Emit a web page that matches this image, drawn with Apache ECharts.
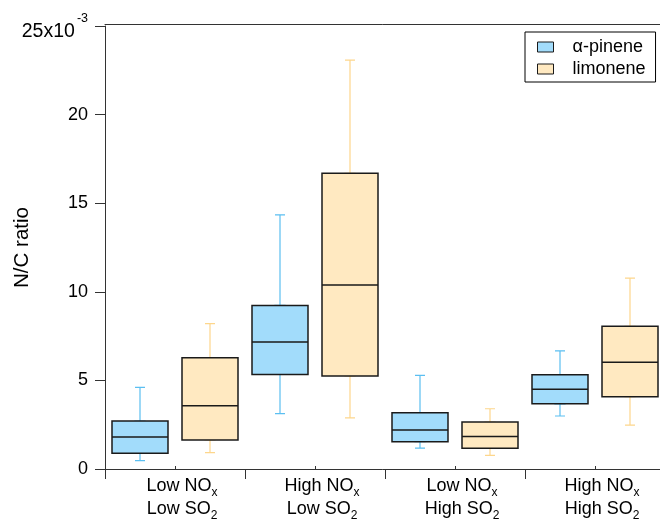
<!DOCTYPE html>
<html><head><meta charset="utf-8">
<script src="https://cdn.jsdelivr.net/npm/echarts@6/dist/echarts.min.js"></script>
<style>html,body{margin:0;padding:0;background:#fff}#c{width:660px;height:525px}</style>
</head><body><div id="c"></div>
<script>
// Categories (x axis)
const categories = ['Low NOx\nLow SO2', 'High NOx\nLow SO2', 'Low NOx\nHigh SO2', 'High NOx\nHigh SO2'];
const seriesNames = ['α-pinene', 'limonene'];
// Box statistics per category: [min, Q1, median, Q3, max]  (units of 10^-3)
const alphaPinene = [
  [0.47, 0.89, 1.80, 2.71, 4.61],
  [3.12, 5.34, 7.16, 9.23, 14.34],
  [1.18, 1.54, 2.20, 3.18, 5.28],
  [2.99, 3.68, 4.50, 5.32, 6.67]
];
const limonene = [
  [0.92, 1.64, 3.57, 6.28, 8.20],
  [2.88, 5.25, 10.38, 16.69, 23.07],
  [0.77, 1.17, 1.84, 2.65, 3.40],
  [2.48, 4.08, 6.02, 8.05, 10.77]
];
const yTickValues = [0, 5, 10, 15, 20, 25];
const yTopLabel = '25x10';
const yTopExp = '-3';

const FONT = '"Liberation Sans", Arial, Helvetica, sans-serif';
const fillColors = ['#a2dcfb', '#ffe9c1'];
const whiskerColors = ['#5bbff1', '#fdd68c'];
const slots = categories.flatMap((c, i) => [i + 'a', i + 'b']);

function boxData(arr, slot) {
  return arr.map((d, i) => [2 * i + slot, d[1], d[1], d[2], d[3], d[3]]);
}
function whiskerData(arr, slot) {
  return arr.map((d, i) => [2 * i + slot, d[0], d[1], d[2], d[3], d[4]]);
}

const chart = echarts.init(document.getElementById('c'), null, {renderer: 'canvas'});
const gridBox = {left: 105, top: 26, width: 560, bottom: 56, containLabel: false, outerBoundsMode: 'none'};
const hiddenAxis = {type: 'category', data: slots, show: false, gridIndex: 0};

const series = [];
[alphaPinene, limonene].forEach((arr, s) => {
  series.push({
    name: seriesNames[s], type: 'boxplot', xAxisIndex: 2 + s, yAxisIndex: 0,
    data: boxData(arr, s), encode: {x: 0, y: [1, 2, 3, 4, 5]},
    boxWidth: [56, 56], z: 3,
    itemStyle: {color: fillColors[s], borderColor: '#1a1a1a', borderWidth: 1.5},
    emphasis: {disabled: true}, silent: true
  });
});
[alphaPinene, limonene].forEach((arr, s) => {
  series.push({
    name: seriesNames[s], type: 'boxplot', xAxisIndex: 4 + s, yAxisIndex: 0,
    data: whiskerData(arr, s), encode: {x: 0, y: [1, 2, 3, 4, 5]},
    boxWidth: [10, 10], z: 2,
    itemStyle: {color: 'rgba(0,0,0,0)', borderColor: whiskerColors[s], borderWidth: 1.2},
    emphasis: {disabled: true}, silent: true
  });
});

chart.setOption({
  animation: false,
  backgroundColor: '#fff',
  textStyle: {fontFamily: FONT},
  grid: [Object.assign({}, gridBox), Object.assign({}, gridBox)],
  legend: {
    orient: 'vertical', left: 525, top: 32,
    data: seriesNames.map((n, s) => ({name: n, itemStyle: {color: fillColors[s], borderColor: '#1a1a1a', borderWidth: 1}})),
    icon: 'rect', itemWidth: 16, itemHeight: 10, itemGap: 2,
    borderColor: '#000', borderWidth: 1, padding: [5, 10, 3, 12],
    selectedMode: false,
    textStyle: {fontSize: 18, color: '#000', fontFamily: FONT, lineHeight: 20, padding: [0, 0, 0, 14]}
  },
  xAxis: [
    {
      type: 'category', data: categories, gridIndex: 0, position: 'bottom', offset: 2,
      axisLine: {show: true, lineStyle: {color: '#333', width: 1}},
      axisTick: {show: true, length: 10, lineStyle: {color: '#333'}},
      axisLabel: {
        interval: 0, margin: 4, fontSize: 18, lineHeight: 23, color: '#000', fontFamily: FONT,
        padding: [0, 0, 0, 14], hideOverlap: false,
        formatter: v => v.replace('NOx', 'NO{s|x}').replace('SO2', 'SO{s|2}'),
        rich: {s: {fontSize: 12, padding: [12, 0, 0, 0], fontFamily: FONT, color: '#000'}}
      },
      splitLine: {show: false}
    },
    {
      type: 'category', data: categories, gridIndex: 0, position: 'top', offset: 1.5,
      axisLine: {show: true, lineStyle: {color: '#333', width: 1}},
      axisTick: {show: false}, axisLabel: {show: false}, splitLine: {show: false}
    },
    Object.assign({}, hiddenAxis), Object.assign({}, hiddenAxis),
    Object.assign({}, hiddenAxis), Object.assign({}, hiddenAxis),
    {
      type: 'category', data: categories, gridIndex: 1, position: 'bottom', offset: 2,
      axisLine: {show: false},
      axisTick: {show: true, alignWithLabel: true, inside: true, length: 3, lineStyle: {color: '#333'}},
      axisLabel: {show: false}, splitLine: {show: false}
    }
  ],
  yAxis: [
    {
      type: 'value', gridIndex: 0, min: yTickValues[0], max: yTickValues[yTickValues.length - 1], interval: 5,
      name: 'N/C ratio', nameLocation: 'middle', nameRotate: 90, nameGap: 72, nameMoveOverlap: false,
      nameTextStyle: {fontSize: 20.5, color: '#000', fontFamily: FONT},
      axisLine: {show: true, lineStyle: {color: '#333', width: 1}},
      axisTick: {show: true, length: 10, lineStyle: {color: '#333'}},
      axisLabel: {
        margin: 17, fontSize: 18, color: '#000', fontFamily: FONT,
        formatter: v => v === yTickValues[yTickValues.length - 1] ? '{b|' + yTopLabel + '}{sup|' + yTopExp + '}' : String(v),
        rich: {
          b: {fontSize: 19.5, padding: [12, 0, 0, 0], fontFamily: FONT, color: '#000'},
          sup: {fontSize: 12.5, padding: [0, 0, 14, 2], fontFamily: FONT, color: '#000'}
        }
      },
      splitLine: {show: false}
    },
    {type: 'value', gridIndex: 1, show: false, min: 0, max: 25}
  ],
  series: series
});
</script>
</body></html>
